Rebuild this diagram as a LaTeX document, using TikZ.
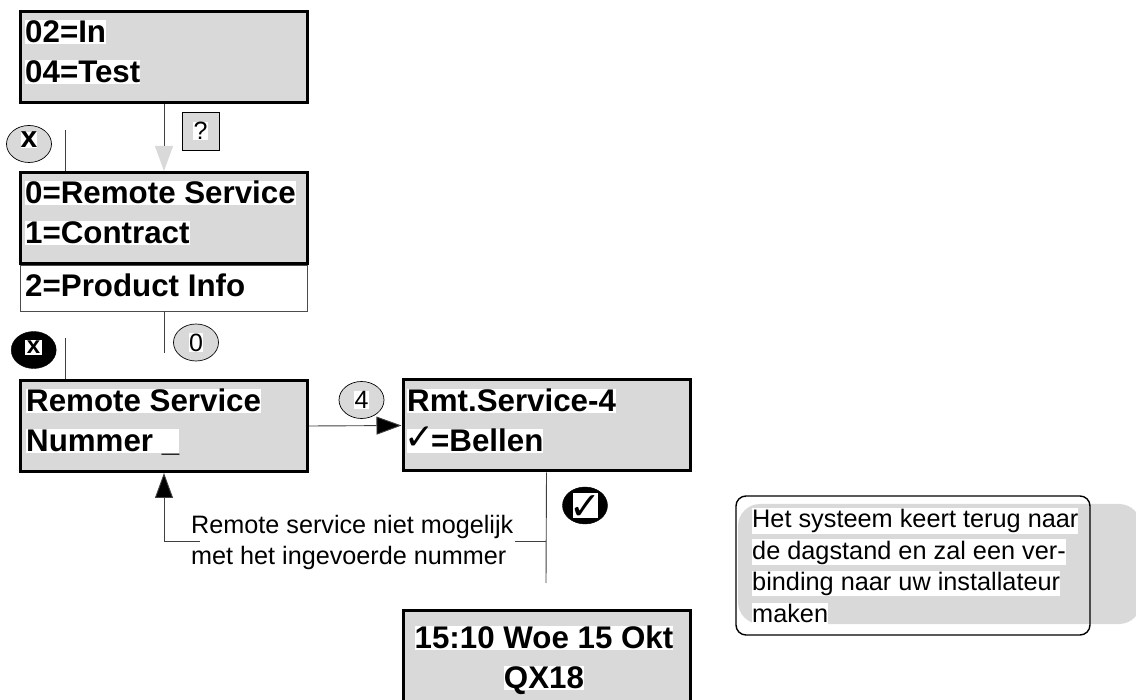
\documentclass[tikz,border=0pt]{standalone}
\usepackage{fontspec}
\setmainfont{Liberation Sans}
\newfontfamily\symfont{DejaVu Sans}
\usetikzlibrary{arrows.meta,shapes.geometric}
\definecolor{lcdgray}{HTML}{D9D9D9}
\newcommand{\chk}[3]{\makebox[#1pt]{\smash{\raisebox{#3pt}{\symfont\mdseries\fontsize{#2}{#2}\selectfont ✓}}}}
\tikzset{
  x=1pt,y=-1pt,
  lcd/.style={draw=black,fill=lcdgray,line width=3pt,minimum width=287pt,minimum height=91pt,inner sep=0pt},
  subbox/.style={draw=black!70,fill=white,line width=0.8pt,minimum width=287pt,minimum height=46pt,inner sep=0pt},
  lcdtext/.style={fill=white,inner sep=0pt,anchor=base west,font=\fontsize{31.3}{31.3}\selectfont\bfseries,text height=22.5pt,text depth=1.5pt},
  lcdmid/.style={lcdtext,anchor=base},
  small/.style={fill=white,inner sep=0pt,anchor=base west,font=\fontsize{25.3}{25.3}\selectfont,text height=19.5pt,text depth=6pt},
  plain/.style={inner sep=0pt,anchor=base west,font=\fontsize{25.2}{25.2}\selectfont},
  keyoval/.style={ellipse,draw=black,fill=lcdgray,line width=0.7pt,minimum width=45pt,minimum height=37pt,inner sep=0pt},
  blackoval/.style={ellipse,draw=black,fill=black,minimum width=45pt,minimum height=37pt,inner sep=0pt},
  keytext/.style={fill=white,inner sep=0.5pt,font=\fontsize{25}{25}\selectfont},
  conn/.style={draw=black!75,line width=0.9pt},
  greyhead/.style={-{Triangle[fill=lcdgray,color=lcdgray,length=25pt,width=18pt]}},
  blackhead/.style={-{Triangle[fill=black,length=25pt,width=18pt]}},
}
\begin{document}
\begin{tikzpicture}
\useasboundingbox (0,0) rectangle (1136,700);
% note shadow
\fill[lcdgray,rounded corners=22pt] (738,504) rectangle (1141,624);

% boxes
\node[subbox] (b2s) at (164,288) {};
\node[lcd] (b1) at (164,57) {};
\node[lcd] (b2) at (164,218) {};
\node[lcd] (b3) at (164,426) {};
\node[lcd] (b4) at (546.5,425.5) {};
\node[lcd] (b5) at (546.5,656) {};

% text
\node[lcdtext] (t1a) at (25,43) {02=In};
\node[lcdtext] (t1b) at (25,83) {04=Test};
\node[lcdtext] (t2a) at (25,204) {0=Remote Service};
\node[lcdtext] (t2b) at (25,244) {1=Contract};
\node[lcdtext] (t2c) at (25,297) {2=Product Info};
\node[lcdtext] (t3a) at (26,412) {Remote Service};
\node[lcdtext] (t3b) at (26,452) {Nummer \_};
\node[lcdtext] (t4a) at (407,412) {Rmt.Service-4};
\node[lcdtext] (t4b) at (407,452) {\chk{24}{36}{2}=Bellen};
\node[lcdmid] (t5a) at (544,648) {15:10 Woe 15 Okt};
\node[lcdmid] (t5b) at (544,688) {QX18};

% key symbols
\node[draw=black,fill=lcdgray,line width=0.7pt,minimum width=37pt,minimum height=38pt,inner sep=0pt] (kq) at (200.5,131) {};
\node[keytext] (kqt) at (kq) {?};
\node[keyoval] (kx) at (29,144) {};
\node[inner sep=0pt,fill=white,font=\fontsize{30}{30}\selectfont\bfseries] (kxt) at (29,140) {x};
\node[keyoval] (k0) at (196,342.5) {};
\node[keytext] (k0t) at (k0) {0};
\node[blackoval] (kbx) at (33.7,350) {};
\node[inner sep=0pt,fill=white,font=\fontsize{24}{24}\selectfont\bfseries,minimum width=17pt,minimum height=15pt] (kbxt) at (33.5,347.5) {x};
\node[keyoval] (k4) at (361.5,400) {};
\node[keytext] (k4t) at (k4) {4};
\node[blackoval] (kok) at (585,505.5) {};
\node[fill=white,draw=black,line width=0.7pt,inner sep=0pt,minimum width=26pt,minimum height=26pt] (kokt) at (585,505) {\chk{26}{38}{-14}};

% label and note text
\node[plain] (lab1) at (191,533) {Remote service niet mogelijk};
\node[plain] (lab2) at (191,564) {met het ingevoerde nummer};
\node[small] (n1) at (752,528) {Het systeem keert terug naar};
\node[small] (n2) at (752,559) {de dagstand en zal een ver-};
\node[small] (n3) at (752,590) {binding naar uw installateur};
\node[small] (n4) at (752,622) {maken};
\draw[black,line width=1.4pt,rounded corners=10pt] (736,496) rectangle (1090,635);

% free ends of connectors
\coordinate (e1) at (65,130);
\coordinate (e2) at (65,338);
\coordinate (e3) at (164,353);
\coordinate (e4) at (546,583);
\coordinate (j1) at (546,541);
\coordinate (j2) at (515,541);
\coordinate (j3) at (200,541);
\coordinate (j4) at (164,541);

% connectors
\draw[conn,greyhead] (b1.south) -- (b2.north);
\draw[conn] (b2.north -| e1) -- (e1);
\draw[conn] (b2s.south) -- (e3);
\draw[conn] (b3.north -| e2) -- (e2);
\draw[conn,blackhead] (b3.east) -- (b4.west);
\draw[conn] (b4.south) -- (e4);
\draw[conn] (j1) -- (j2);
\draw[conn,blackhead] (j3) -- (j4) -- (b3.south);
\end{tikzpicture}
\end{document}
